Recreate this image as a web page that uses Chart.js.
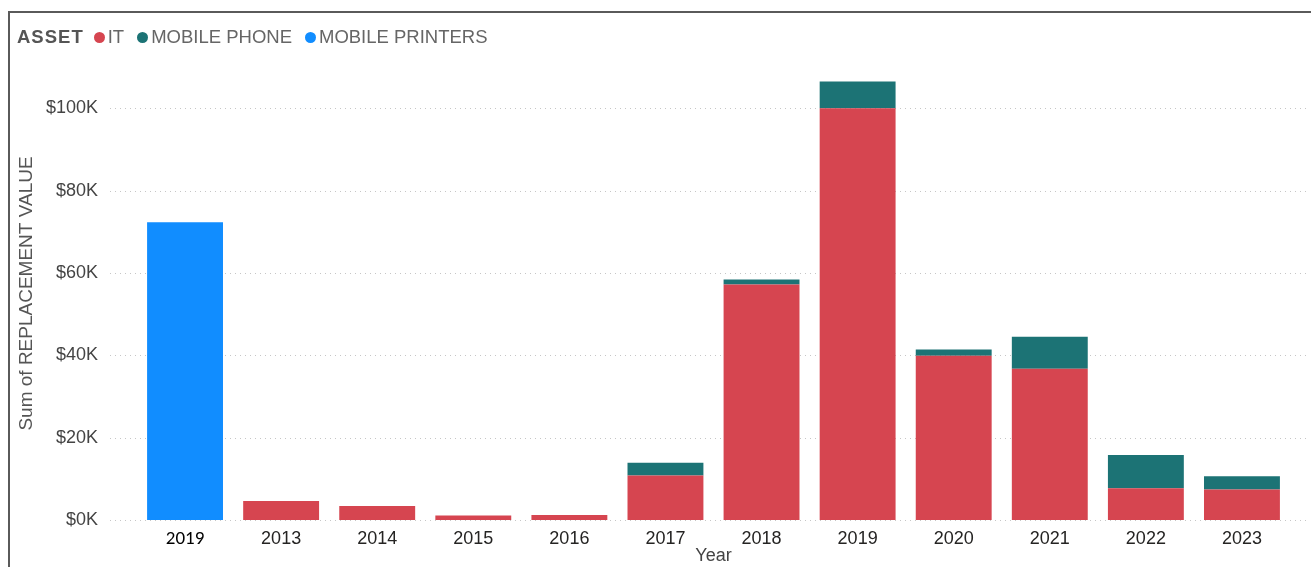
<!DOCTYPE html>
<html>
<head>
<meta charset="utf-8">
<script src="https://cdn.jsdelivr.net/npm/chart.js@4/dist/chart.umd.min.js"></script>
<style>
  body { margin: 0; background: #fff; font-family: 'Liberation Sans', Arial, sans-serif; }
  #wrap { position: relative; width: 1311px; height: 567px; overflow: hidden; }
  #frame { position: absolute; left: 8px; top: 11px; right: -10px; bottom: -10px;
           border-top: 2px solid #5a5a5a; border-left: 2px solid #5a5a5a; }
  #legend { position: absolute; left: 17px; top: 26px; height: 22px; display: flex; align-items: center;
            font-size: 18.5px; color: #666; white-space: nowrap; }
  #legend b { color: #555; letter-spacing: 1px; margin-right: 10px; }
  #legend .dot { display: inline-block; width: 11px; height: 11px; border-radius: 50%; margin-right: 3px; }
  #legend .item { display: flex; align-items: center; margin-right: 13px; }
  canvas { position: absolute; left: 0; top: 0; }
</style>
</head>
<body>
<div id="wrap">
  <canvas id="chart" width="1311" height="567"></canvas>
  <div id="frame"></div>
  <div id="legend"></div>
</div>
<script>
const years = ['2019', '2013', '2014', '2015', '2016', '2017', '2018', '2019', '2020', '2021', '2022', '2023'];
const itValues = [null, 4600, 3400, 1100, 1200, 10800, 57200, 100000, 39900, 36700, 7700, 7400];
const phoneValues = [null, 0, 0, 0, 0, 3100, 1200, 6500, 1500, 7800, 8100, 3200];
const printerValues = [72300, null, null, null, null, null, null, null, null, null, null, null];
const yTicks = [0, 20000, 40000, 60000, 80000, 100000];

const seriesNames = ['IT', 'MOBILE PHONE', 'MOBILE PRINTERS'];
const seriesColors = ['#D64550', '#1C7375', '#118DFF'];

// legend
const legend = document.getElementById('legend');
legend.innerHTML = '<b>ASSET</b>' + seriesNames.map((n, i) =>
  '<span class="item"><span class="dot" style="background:' + seriesColors[i] + '"></span>' + n + '</span>').join('');

// dotted gridlines that run past the plot area like in the original
const dottedGrid = {
  id: 'dottedGrid',
  beforeDatasetsDraw(chart) {
    const y = chart.scales.y;
    const ctx = chart.ctx;
    ctx.save();
    ctx.strokeStyle = '#c6c6c6';
    ctx.lineWidth = 1;
    ctx.setLineDash([1, 4]);
    yTicks.forEach(v => {
      const py = Math.round(y.getPixelForValue(v)) + 0.5;
      ctx.beginPath();
      ctx.moveTo(chart.chartArea.left - 27, py);
      ctx.lineTo(chart.width - 4, py);
      ctx.stroke();
    });
    ctx.restore();
  }
};

Chart.defaults.font.family = "'Liberation Sans', Arial, sans-serif";

new Chart(document.getElementById('chart'), {
  type: 'bar',
  data: {
    labels: years,
    datasets: [
      { label: seriesNames[0], data: itValues, backgroundColor: seriesColors[0] },
      { label: seriesNames[1], data: phoneValues, backgroundColor: seriesColors[1] },
      { label: seriesNames[2], data: printerValues, backgroundColor: seriesColors[2] }
    ]
  },
  options: {
    responsive: false,
    animation: false,
    datasets: { bar: { categoryPercentage: 1, barPercentage: 0.79, borderWidth: 0 } },
    layout: { padding: { left: 10, top: 67, right: 21, bottom: 0 } },
    plugins: { legend: { display: false }, tooltip: { enabled: false } },
    scales: {
      x: {
        stacked: true,
        grid: { display: false },
        border: { display: false },
        afterFit: s => { s.height = 47; },
        ticks: {
          padding: 0,
          color: ctx => ctx.index === 0 ? '#000' : '#252423',
          font: ctx => ctx.index === 0
            ? { family: "Carlito, Calibri, 'Liberation Sans', sans-serif", size: 19 }
            : { size: 18 }
        },
        title: { display: true, text: 'Year', color: '#444', font: { size: 18 }, padding: { top: 0, bottom: 0 } }
      },
      y: {
        stacked: true,
        min: 0,
        max: 110000,
        grid: { display: false },
        border: { display: false },
        afterFit: s => { s.width = 127; },
        afterBuildTicks: s => { s.ticks = yTicks.map(v => ({ value: v })); },
        ticks: {
          padding: 31,
          color: '#444',
          font: { size: 18 },
          callback: v => '$' + (v / 1000) + 'K'
        },
        title: { display: true, text: 'Sum of REPLACEMENT VALUE', color: '#555', font: { size: 19 }, padding: { top: 5, bottom: 0 } }
      }
    }
  },
  plugins: [dottedGrid]
});
</script>
</body>
</html>
